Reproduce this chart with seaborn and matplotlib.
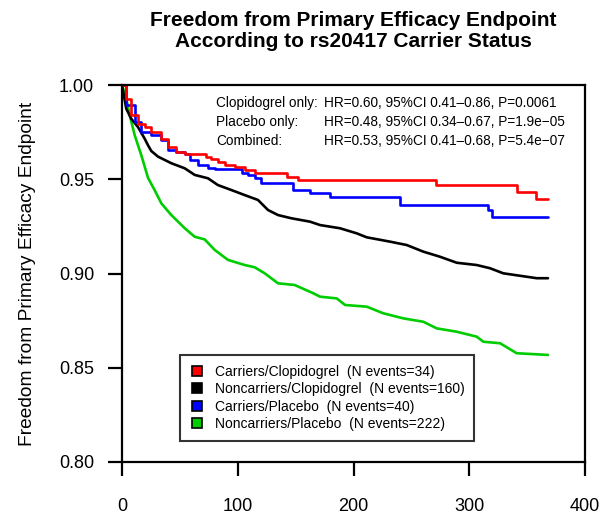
import numpy as np
import pandas as pd
import matplotlib
matplotlib.use("Agg")
import matplotlib.pyplot as plt
from matplotlib.lines import Line2D
import seaborn as sns

# ---- data ----
groups = ["Carriers/Clopidogrel", "Noncarriers/Clopidogrel", "Carriers/Placebo", "Noncarriers/Placebo"]
n_events = [34, 160, 40, 222]
colors = ["#FF0000", "#000000", "#0000FF", "#00CD00"]

cc_time = [0, 3.7, 8.0, 13.8, 19.6, 25.0, 33.7, 39.7, 46.7, 54.4, 72.6, 76.9, 82.9, 89.0, 97.6, 106.0, 115.0, 142.5, 152.0, 271.0, 341.0, 358.0, 368.0]
cc_surv = [1.0, 0.9927, 0.9841, 0.9795, 0.9777, 0.9751, 0.9714, 0.9671, 0.9645, 0.9634, 0.9618, 0.9607, 0.9592, 0.9576, 0.9565, 0.9549, 0.9533, 0.9514, 0.9496, 0.9469, 0.9434, 0.9395, 0.9395]

nc_time = [0, 3.7, 8.0, 13.8, 19.6, 22.5, 25.3, 31.1, 42.6, 54.2, 62.8, 74.3, 82.9, 94.4, 106.0, 117.5, 126.1, 134.8, 146.3, 162.4, 171.1, 188.3, 202.8, 211.4, 231.5, 246.0, 260.3, 274.7, 289.2, 306.4, 317.9, 329.4, 358.3, 368.0]
nc_surv = [1.0, 0.9874, 0.9821, 0.9777, 0.9715, 0.9680, 0.9650, 0.9620, 0.9585, 0.9558, 0.9523, 0.9505, 0.9469, 0.9443, 0.9416, 0.9390, 0.9337, 0.9310, 0.9293, 0.9275, 0.9257, 0.9240, 0.9213, 0.9192, 0.9169, 0.9151, 0.9116, 0.9089, 0.9057, 0.9045, 0.9028, 0.9001, 0.8975, 0.8975]

cp_time = [0, 3.7, 11.0, 16.7, 25.3, 34.0, 39.7, 46.9, 54.2, 58.5, 65.7, 74.3, 80.0, 103.4, 108.9, 115.0, 120.0, 147.7, 162.4, 179.7, 240.0, 316.0, 319.4, 368.0]
cp_surv = [1.0, 0.9892, 0.9804, 0.9751, 0.9733, 0.9707, 0.9654, 0.9645, 0.9636, 0.9601, 0.9574, 0.9560, 0.9553, 0.9532, 0.9523, 0.9505, 0.9479, 0.9443, 0.9425, 0.9407, 0.9363, 0.9337, 0.9301, 0.9301]

np_time = [0, 3.7, 6.7, 11.0, 16.7, 22.5, 28.3, 34.0, 42.6, 54.2, 62.8, 71.4, 80.1, 91.6, 106.0, 114.6, 123.3, 134.8, 149.2, 165.3, 171.1, 185.5, 192.7, 211.4, 225.7, 243.0, 260.3, 271.9, 289.2, 306.4, 312.2, 326.6, 341.0, 368.0]
np_surv = [1.0, 0.9927, 0.9839, 0.9733, 0.9627, 0.9507, 0.9441, 0.9372, 0.9310, 0.9240, 0.9195, 0.9181, 0.9125, 0.9072, 0.9045, 0.9033, 0.9001, 0.8948, 0.8939, 0.8895, 0.8877, 0.8868, 0.8833, 0.8824, 0.8789, 0.8762, 0.8744, 0.8709, 0.8691, 0.8665, 0.8638, 0.8630, 0.8577, 0.8568]

x_ticks = [0, 100, 200, 300, 400]
y_ticks = [0.80, 0.85, 0.90, 0.95, 1.00]
y_ticklabels = ["0.80", "0.85", "0.90", "0.95", "1.00"]

annot_labels = ["Clopidogrel only:", "Placebo only:", "Combined:"]
annot_stats = ["HR=0.60, 95%CI 0.41\u20130.86, P=0.0061",
               "HR=0.48, 95%CI 0.34\u20130.67, P=1.9e\u221205",
               "HR=0.53, 95%CI 0.41\u20130.68, P=5.4e\u221207"]

title = "Freedom from Primary Efficacy Endpoint\nAccording to rs20417 Carrier Status"
ylabel = "Freedom from Primary Efficacy Endpoint"

# ---- build frame ----
frames = []
for g, t, s in zip(groups,
                   [cc_time, nc_time, cp_time, np_time],
                   [cc_surv, nc_surv, cp_surv, np_surv]):
    frames.append(pd.DataFrame({"time": t, "surv": s, "group": g}))
df = pd.concat(frames, ignore_index=True)

sns.set_style("ticks")
plt.rcParams["font.family"] = ["Liberation Sans", "DejaVu Sans"]
plt.rcParams.update({"text.color": "black", "axes.labelcolor": "black",
                     "xtick.color": "black", "ytick.color": "black",
                     "axes.edgecolor": "black"})

fig = plt.figure(figsize=(6.06, 5.21), dpi=100)
ax = fig.add_axes([122/606, 1-462/521, (585-122)/606, (462-85)/521])

palette = dict(zip(groups, colors))
styles = {"Carriers/Clopidogrel": "steps-post", "Carriers/Placebo": "steps-post",
          "Noncarriers/Clopidogrel": "default", "Noncarriers/Placebo": "default"}
for g in ["Noncarriers/Placebo", "Noncarriers/Clopidogrel", "Carriers/Placebo", "Carriers/Clopidogrel"]:
    sub = df[df["group"] == g]
    sns.lineplot(data=sub, x="time", y="surv", color=palette[g], estimator=None,
                 drawstyle=styles[g], linewidth=1.9, ax=ax, legend=False)

ax.set_xlim(0, 400)
ax.set_ylim(0.80, 1.00)
ax.set_xticks(x_ticks)
ax.set_xticklabels([str(v) for v in x_ticks])
ax.set_yticks(y_ticks)
ax.set_yticklabels(y_ticklabels)
ax.tick_params(axis="both", direction="out", length=10, width=1.6, labelsize=13,
               color="black", labelcolor="black",
               bottom=True, left=True, top=False, right=False)
ax.tick_params(axis="x", pad=16)
ax.tick_params(axis="y", pad=10)
for sp in ax.spines.values():
    sp.set_visible(True)
    sp.set_linewidth(1.6)
    sp.set_color("black")
ax.set_xlabel("")
ax.set_ylabel(ylabel, fontsize=13.8, color="black")
ax.yaxis.set_label_coords(-0.186, 0.5)

# annotations
ys = [0.9905, 0.9804, 0.9703]
for lab, st, yy in zip(annot_labels, annot_stats, ys):
    ax.text(81.2, yy, lab, fontsize=9.8, va="center", ha="left", color="black")
    ax.text(174.5, yy, st, fontsize=9.8, va="center", ha="left", color="black")

# legend
handles = [Line2D([0], [0], linestyle="none", marker="s", markersize=7.5,
                  markerfacecolor=c, markeredgecolor="black", markeredgewidth=1.2)
           for c in colors]
labels = [f"{g}  (N events={n})" for g, n in zip(groups, n_events)]
leg = ax.legend(handles, labels, loc="lower left", bbox_to_anchor=(0.1253, 0.0557),
                borderaxespad=0, fontsize=10, frameon=True, fancybox=False,
                handlelength=1.0, handletextpad=0.8, labelspacing=0.25,
                borderpad=0.7)
leg.get_frame().set_edgecolor("black")
leg.get_frame().set_linewidth(1.5)
for txt in leg.get_texts():
    txt.set_color("black")

fig.text(353.5/606, 1-31/521, title, ha="center", va="center", fontsize=15,
         fontweight="bold", linespacing=1.15, color="black")

fig.savefig("out.png", dpi=100)
